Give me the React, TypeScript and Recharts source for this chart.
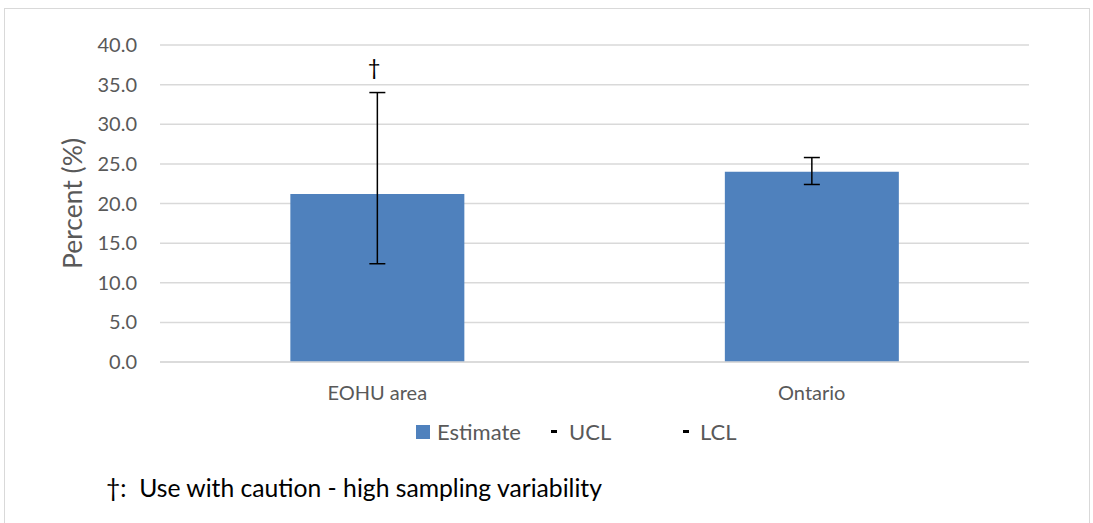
import React from "react";
import {
  Bar,
  CartesianGrid,
  ComposedChart,
  ErrorBar,
  Scatter,
  XAxis,
  YAxis,
} from "recharts";

const regions = ["EOHU area", "Ontario"];
const estimate = [21.2, 24.0];
const ucl = [34.0, 25.8];
const lcl = [12.4, 22.4];
const cautionFlag = [true, false];
const yTicks = [0, 5, 10, 15, 20, 25, 30, 35, 40];

const font = "Lato, 'Open Sans', sans-serif";
const textColor = "#595959";

const data = regions.map((name, i) => ({
  name,
  estimate: estimate[i],
  ucl: ucl[i],
  lcl: lcl[i],
  err: [estimate[i] - lcl[i], ucl[i] - estimate[i]],
  caution: cautionFlag[i],
}));

function Dagger(props: any) {
  const { cx, cy, payload } = props;
  if (!payload || !payload.caution) return <g />;
  return (
    <text x={cx - 3} y={cy - 18} textAnchor="middle" fontFamily={font} fontSize={22} fill="#000">
      †
    </text>
  );
}

function LegendBox() {
  const item = { display: "inline-flex", alignItems: "center", color: textColor, fontSize: 22 } as const;
  return (
    <div style={{ position: "absolute", left: 0, top: 418, width: 1093, height: 28, fontFamily: font }}>
      <div style={{ ...item, position: "absolute", left: 416 }}>
        <span style={{ width: 14, height: 14, background: "#4f81bd", marginRight: 7 }} />
        Estimate
      </div>
      <div style={{ ...item, position: "absolute", left: 551 }}>
        <span style={{ width: 6, height: 3, background: "#000", marginRight: 12 }} />
        UCL
      </div>
      <div style={{ ...item, position: "absolute", left: 683 }}>
        <span style={{ width: 6, height: 3, background: "#000", marginRight: 11 }} />
        LCL
      </div>
    </div>
  );
}

export default function App() {
  return (
    <div style={{ position: "absolute", left: 0, top: 0, width: 1093, height: 523, background: "#fff", overflow: "hidden" }}>
      <div
        style={{
          position: "absolute",
          left: 4,
          top: 8,
          width: 1084,
          height: 530,
          border: "1px solid #d9d9d9",
        }}
      />
      <ComposedChart
        width={1093}
        height={523}
        data={data}
        margin={{ top: 45, right: 64, bottom: 131, left: 60 }}
        barCategoryGap="30%"
        style={{ position: "absolute", left: 0, top: 0, fontFamily: font }}
      >
        <CartesianGrid vertical={false} stroke="#d9d9d9" strokeWidth={1.5} />
        <XAxis
          dataKey="name"
          height={30}
          axisLine={{ stroke: "#d9d9d9", strokeWidth: 1.5 }}
          tickLine={false}
          tickSize={0}
          tickMargin={24}
          tick={{ fill: textColor, fontSize: 20, fontFamily: font }}
        />
        <YAxis
          domain={[0, 40]}
          ticks={yTicks}
          width={100}
          axisLine={false}
          tickLine={false}
          tickSize={0}
          tickMargin={23}
          tickFormatter={(v: number) => v.toFixed(1)}
          tick={{ fill: textColor, fontSize: 20, fontFamily: font }}
          label={{
            value: "Percent (%)",
            angle: -90,
            position: "insideLeft",
            offset: 13,
            style: { textAnchor: "middle", fill: textColor, fontSize: 26.5, fontFamily: font },
          }}
        />
        <Bar dataKey="estimate" fill="#4f81bd" isAnimationActive={false}>
          <ErrorBar dataKey="err" width={8} stroke="#000" strokeWidth={1.5} direction="y" />
        </Bar>
        <Scatter dataKey="ucl" shape={<Dagger />} isAnimationActive={false} legendType="none" />
      </ComposedChart>
      <LegendBox />
      <div
        style={{
          position: "absolute",
          left: 106,
          top: 473,
          fontFamily: font,
          fontSize: 24.7,
          color: "#000",
          whiteSpace: "nowrap",
        }}
      >
        †:&nbsp; Use with caution - high sampling variability
      </div>
    </div>
  );
}
